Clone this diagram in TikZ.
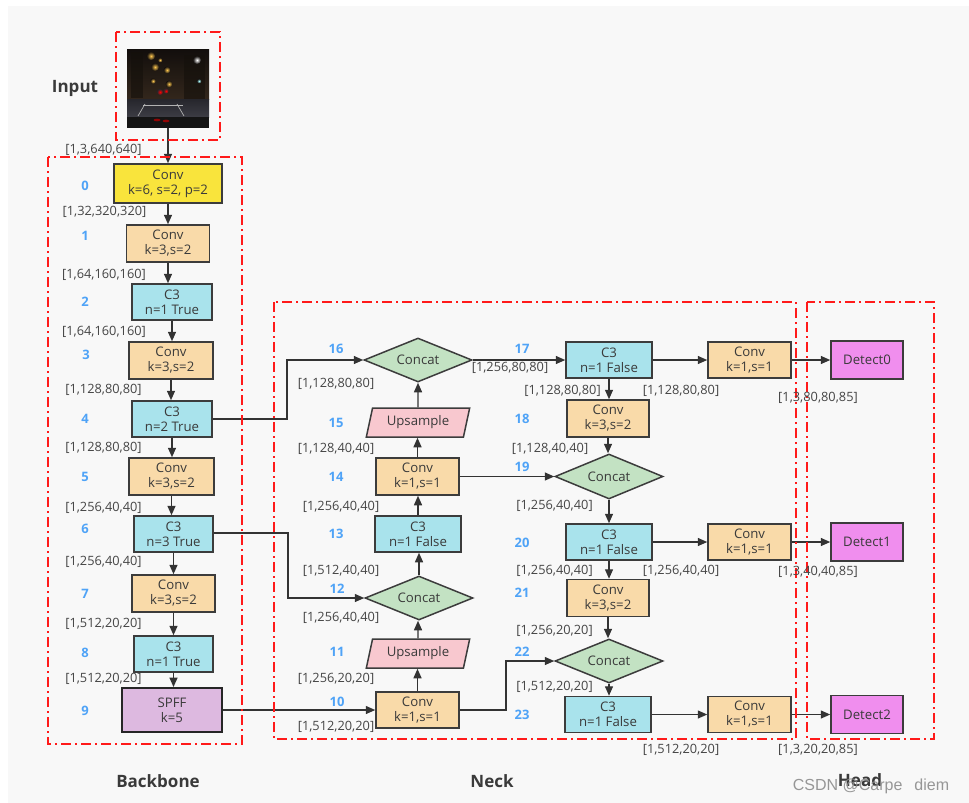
\documentclass[tikz,border=0pt]{standalone}
\usepackage{fontspec}
\setmainfont{Open Sans}
\newfontfamily\wmfont{Liberation Sans}
\usetikzlibrary{arrows.meta,shapes.geometric,calc}
\definecolor{bgc}{HTML}{F8F8F8}
\definecolor{yelc}{HTML}{F9E43C}
\definecolor{convc}{HTML}{F9DAA9}
\definecolor{cthc}{HTML}{A9E3EC}
\definecolor{spfc}{HTML}{DDB9E0}
\definecolor{catc}{HTML}{C3E2C3}
\definecolor{upc}{HTML}{F8C8CF}
\definecolor{detc}{HTML}{F08EEE}
\definecolor{numc}{HTML}{4FA3F7}
\definecolor{redc}{HTML}{FF1A1A}
\definecolor{bordc}{HTML}{3C3C3C}
\definecolor{txtc}{HTML}{3A3A3A}
\definecolor{lblc}{HTML}{454545}
\definecolor{arrc}{HTML}{333333}
\definecolor{skyc}{HTML}{120E0C}
\definecolor{bldc}{HTML}{33271C}
\definecolor{roadc}{HTML}{3C3C44}
\definecolor{roadd}{HTML}{26262C}
\definecolor{lampc}{HTML}{FFC850}
\newcommand\myboxfont{\fontsize{13.2}{15}\selectfont}
\newcommand\mylblfont{\fontsize{12.8}{15}\selectfont}
\newcommand\mynumfont{\fontsize{13}{15}\selectfont\bfseries}
\newcommand\mytitlefont{\fontsize{17}{20}\selectfont\bfseries}
\begin{document}
\begin{tikzpicture}[x=1pt,y=-1pt,
  blk/.style={draw=bordc, line width=1.5pt, inner sep=0pt, align=center, font=\myboxfont, text=txtc},
  convb/.style={blk, fill=convc},
  cthb/.style={blk, fill=cthc},
  detb/.style={blk, fill=detc, minimum width=72pt, minimum height=38pt},
  catb/.style={blk, fill=catc, diamond, shape aspect=2.45, minimum width=108pt, minimum height=44pt},
  upb/.style={blk, fill=upc, trapezium, trapezium left angle=72, trapezium right angle=108, trapezium stretches=true, minimum width=104pt, minimum height=29pt},
  lbl/.style={font=\mylblfont, text=lblc, inner sep=0pt},
  num/.style={font=\mynumfont, text=numc, inner sep=0pt},
  ttl/.style={font=\mytitlefont, text=txtc, inner sep=0pt},
  arr/.style={draw=arrc, line width=1.4pt, -{Triangle[length=9.5pt,width=8pt]}},
  red box/.style={draw=redc, line width=1.8pt, dash pattern=on 10pt off 4pt on 2pt off 4pt},
  lamp/.style={inner color=lampc, outer color=skyc}
]
\useasboundingbox (0,0) rectangle (969,803);
\fill[bgc] (8,6) rectangle (969,803);

% ---------- input photo ----------
\shade[top color=skyc, bottom color=bldc] (127,49) rectangle (209,99);
\shade[top color=roadd, bottom color=roadc] (127,99) rectangle (209,117);
\fill[black!92] (127,117) rectangle (209,128);
\fill[black!60!bldc, opacity=0.6] (131,52) rectangle (143,98);
\fill[black!60!bldc, opacity=0.6] (184,55) rectangle (205,99);
\draw[gray!60, line width=0.7pt] (143,105) -- (183,105);
\draw[gray!60, line width=0.7pt] (145,104) -- (138,116);
\draw[gray!60, line width=0.7pt] (177,104) -- (184,116);
\shade[lamp] (151,56) circle (4.2);
\shade[lamp] (155,67) circle (4.0);
\shade[lamp] (167,70) circle (3.4);
\shade[lamp] (169,84) circle (3.4);
\shade[lamp] (153,81) circle (2.8);
\shade[lamp] (160,60) circle (2.4);
\shade[inner color=white, outer color=skyc] (197,60) circle (4.0);
\shade[inner color=cyan!30, outer color=skyc] (199,81) circle (2.4);
\shade[inner color=red, outer color=roadd] (160,92) circle (3.0);
\shade[inner color=red, outer color=roadd] (166,91) circle (2.6);
\fill[red!70!black, opacity=0.8] (157,120) ellipse (3.5 and 1.3);
\fill[red!70!black, opacity=0.8] (166,121) ellipse (3.5 and 1.3);

% ---------- nodes: backbone ----------
\node[inner sep=0pt, minimum width=82pt, minimum height=79pt] (img) at (168,88.5) {};
\node[blk, fill=yelc, minimum width=108pt, minimum height=39pt] (c0) at (168,183.5) {Conv\\k=6, s=2, p=2};
\node[convb, minimum width=83pt, minimum height=37pt] (c1) at (168,243.5) {Conv\\k=3,s=2};
\node[cthb, minimum width=80pt, minimum height=36pt] (c2) at (172,302) {C3\\n=1 True};
\node[convb, minimum width=84pt, minimum height=37pt] (c3) at (171,360.5) {Conv\\k=3,s=2};
\node[cthb, minimum width=80pt, minimum height=36pt] (c4) at (172,419) {C3\\n=2 True};
\node[convb, minimum width=85pt, minimum height=37pt] (c5) at (171.5,476.5) {Conv\\k=3,s=2};
\node[cthb, minimum width=79pt, minimum height=36pt] (c6) at (173.5,534) {C3\\n=3 True};
\node[convb, minimum width=83pt, minimum height=37pt] (c7) at (173.5,593.5) {Conv\\k=3,s=2};
\node[cthb, minimum width=79pt, minimum height=36pt] (c8) at (173.5,654) {C3\\n=1 True};
\node[blk, fill=spfc, line width=1.9pt, draw=black!85, minimum width=100pt, minimum height=44pt] (c9) at (172,710) {SPFF\\k=5};

% ---------- nodes: neck left column ----------
\node[convb, minimum width=83pt, minimum height=36pt] (c10) at (417.5,710) {Conv\\k=1,s=1};
\node[upb] (u11) at (418,653.5) {Upsample};
\node[catb] (k12n) at (419,598) {Concat};
\node[cthb, minimum width=86pt, minimum height=36pt] (c13) at (418,534) {C3\\n=1 False};
\node[convb, minimum width=83pt, minimum height=37pt] (c14) at (417.5,476.5) {Conv\\k=1,s=1};
\node[upb] (u15) at (418,422.5) {Upsample};
\node[catb] (k16n) at (418,360) {Concat};

% ---------- nodes: neck right column ----------
\node[cthb, minimum width=86pt, minimum height=36pt] (c17) at (609,360) {C3\\n=1 False};
\node[convb, minimum width=82pt, minimum height=37pt] (c18) at (608,418.5) {Conv\\k=3,s=2};
\node[catb, minimum height=45pt] (k19n) at (609,476.5) {Concat};
\node[cthb, minimum width=86pt, minimum height=36pt] (c20) at (609,542) {C3\\n=1 False};
\node[convb, minimum width=82pt, minimum height=37pt] (c21) at (608,598) {Conv\\k=3,s=2};
\node[catb] (k22n) at (609,661) {Concat};
\node[cthb, minimum width=86pt, minimum height=36pt] (c23) at (608,714.5) {C3\\n=1 False};

% ---------- nodes: output convs and detect ----------
\node[convb, minimum width=83pt, minimum height=36pt] (h0) at (749.5,360) {Conv\\k=1,s=1};
\node[convb, minimum width=83pt, minimum height=36pt] (h1) at (749.5,542) {Conv\\k=1,s=1};
\node[convb, minimum width=83pt, minimum height=36pt] (h2) at (749.5,714.5) {Conv\\k=1,s=1};
\node[detb] (d0) at (867,360) {Detect0};
\node[detb] (d1) at (867,542) {Detect1};
\node[detb] (d2) at (867,714.5) {Detect2};

% ---------- connectors ----------
\draw[arr] (img) -- (img |- c0.north);
\draw[arr] (c0) -- (c0 |- c1.north);
\draw[arr] (c1) -- (c1 |- c2.north);
\draw[arr] (c2) -- (c2 |- c3.north);
\draw[arr] (c3) -- (c3 |- c4.north);
\draw[arr] (c4) -- (c4 |- c5.north);
\draw[arr] (c5) -- (c5 |- c6.north);
\draw[arr] (c6) -- (c6 |- c7.north);
\draw[arr] (c7) -- (c7 |- c8.north);
\draw[arr] (c8) -- (c8 |- c9.north);
\draw[arr] (c9) -- (c10);
\draw[arr] (c10) -- (c10 |- u11.south);
\draw[arr] (u11) -- (u11 |- k12n.south);
\draw[arr] (k12n) -- (k12n |- c13.south);
\draw[arr] (c13) -- (c13 |- c14.south);
\draw[arr] (c14) -- (c14 |- u15.south);
\draw[arr] (u15) -- (u15 |- k16n.south);
\coordinate (j16) at (287,360);
\coordinate (j12) at (288,598);
\coordinate (j22) at (506,661);
\draw[arr] (c4.east) -| (j16) -- (k16n.west);
\draw[arr] (c6.east |- 0,533) -| (j12) -- (k12n.west);
\draw[arr] (c10.east) -| (j22) -- (k22n.west);
\draw[arr] (k16n) -- (c17);
\draw[arr] (c14) -- (k19n);
\draw[arr] (c17) -- (c17 |- c18.north);
\draw[arr] (c18) -- (c18 |- k19n.north);
\draw[arr] (k19n) -- (k19n |- c20.north);
\draw[arr] (c20) -- (c20 |- c21.north);
\draw[arr] (c21) -- (c21 |- k22n.north);
\draw[arr] (k22n) -- (k22n |- c23.north);
\draw[arr] (c17) -- (h0);
\draw[arr] (c20) -- (h1);
\draw[arr] (c23) -- (h2);
\draw[arr] (h0) -- (d0);
\draw[arr] (h1) -- (d1);
\draw[arr] (h2) -- (d2);

% ---------- red dash-dot groups ----------
\draw[red box] (116,32) rectangle (220,140);
\draw[red box] (48,157) rectangle (242,744);
\draw[red box] (274,302) rectangle (796,739);
\draw[red box] (807,302) rectangle (934,739);

% ---------- labels: backbone ----------
\node[lbl] (s0) at (103.5,150) {[1,3,640,640]};
\node[num] (n0) at (85,186) {0};
\node[lbl] (s1) at (104.5,212) {[1,32,320,320]};
\node[num] (n1) at (85,236) {1};
\node[lbl] (s2) at (104,275) {[1,64,160,160]};
\node[num] (n2) at (85,302) {2};
\node[lbl] (s3) at (104,332) {[1,64,160,160]};
\node[num] (n3) at (86,355) {3};
\node[lbl] (s4) at (103.5,390) {[1,128,80,80]};
\node[num] (n4) at (85,419) {4};
\node[lbl] (s5) at (103.5,448) {[1,128,80,80]};
\node[num] (n5) at (85,477) {5};
\node[lbl] (s6) at (103.5,508) {[1,256,40,40]};
\node[num] (n6) at (85,529) {6};
\node[lbl] (s7) at (103.5,562) {[1,256,40,40]};
\node[num] (n7) at (85,594) {7};
\node[lbl] (s8) at (103.5,624) {[1,512,20,20]};
\node[num] (n8) at (85,653) {8};
\node[lbl] (s9) at (103.5,679) {[1,512,20,20]};
\node[num] (n9) at (85,711) {9};

% ---------- labels: neck left ----------
\node[num] (n16) at (336,349) {16};
\node[lbl] (s16) at (336,384) {[1,128,80,80]};
\node[num] (n15) at (336,423) {15};
\node[lbl] (s15) at (336,449) {[1,128,40,40]};
\node[num] (n14) at (336,477) {14};
\node[lbl] (s14) at (341,507) {[1,256,40,40]};
\node[num] (n13) at (336,534) {13};
\node[lbl] (s13) at (341,571) {[1,512,40,40]};
\node[num] (n12) at (337,589) {12};
\node[lbl] (s12) at (341,618) {[1,256,40,40]};
\node[num] (n11) at (337,652) {11};
\node[lbl] (s11) at (336,679) {[1,256,20,20]};
\node[num] (n10) at (337,702) {10};
\node[lbl] (s10) at (336,727) {[1,512,20,20]};

% ---------- labels: neck right ----------
\node[num] (n17) at (522,349) {17};
\node[lbl] (s17) at (510,368) {[1,256,80,80]};
\node[lbl] (s18a) at (562.5,391) {[1,128,80,80]};
\node[lbl] (s18b) at (681,391) {[1,128,80,80]};
\node[num] (n18) at (522,419) {18};
\node[lbl] (s19) at (550,449) {[1,128,40,40]};
\node[num] (n19) at (522,467) {19};
\node[lbl] (s20) at (554.5,506) {[1,256,40,40]};
\node[num] (n20) at (522,543) {20};
\node[lbl] (s21a) at (554.5,571) {[1,256,40,40]};
\node[lbl] (s21b) at (681,571) {[1,256,40,40]};
\node[num] (n21) at (522,593) {21};
\node[lbl] (s22) at (554.5,631) {[1,256,20,20]};
\node[num] (n22) at (522,652) {22};
\node[lbl] (s23) at (554.5,687) {[1,512,20,20]};
\node[num] (n23) at (522,715) {23};
\node[lbl] (s24) at (681,750) {[1,512,20,20]};
\node[lbl] (t0) at (818,398) {[1,3,80,80,85]};
\node[lbl] (t1) at (818,572) {[1,3,40,40,85]};
\node[lbl] (t2) at (818,750) {[1,3,20,20,85]};

% ---------- titles ----------
\node[ttl] (tin) at (75,88) {Input};
\node[ttl] (tbb) at (158,781) {Backbone};
\node[ttl] (tnk) at (492,781) {Neck};
\node[ttl] (thd) at (860,780) {Head};
\node[inner sep=0pt, text=gray!90, opacity=0.9, font=\wmfont\fontsize{16}{18}\selectfont] (wm) at (871,786) {CSDN @Carpe\hspace{12pt}diem};
\end{tikzpicture}
\end{document}
